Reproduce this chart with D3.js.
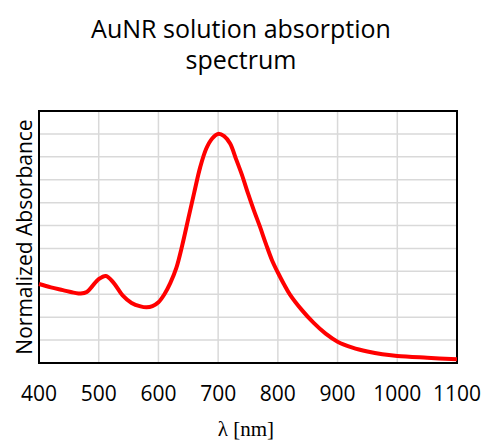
<!DOCTYPE html>
<html>
<head>
<meta charset="utf-8">
<script src="https://cdn.jsdelivr.net/npm/d3@7"></script>
<style>
  body { margin: 0; background: #fff; }
  text { font-variant-ligatures: none; }
</style>
</head>
<body>
<div id="chart"></div>
<script>
// wavelengths (nm) and normalized absorbance
var wavelengths = [400, 420, 440, 460, 470, 480, 490, 500, 512, 525, 540, 555, 570, 580, 590, 600, 610, 620,
  630, 640, 650, 660, 670, 680, 690, 700, 710, 720, 730, 740, 750, 760, 770, 780, 790, 800,
  810, 820, 840, 860, 880, 900, 925, 950, 975, 1000, 1050, 1100];
var absorbance = [0.345, 0.330, 0.318, 0.306, 0.303, 0.310, 0.338, 0.366, 0.380, 0.350, 0.295, 0.262, 0.247, 0.243, 0.248, 0.265, 0.300, 0.350,
  0.415, 0.515, 0.630, 0.745, 0.855, 0.935, 0.980, 1.000, 0.990, 0.958, 0.890, 0.820, 0.740, 0.665, 0.595, 0.520, 0.450, 0.395,
  0.345, 0.300, 0.232, 0.175, 0.128, 0.093, 0.067, 0.050, 0.038, 0.031, 0.023, 0.016];
var xTicks = [400, 500, 600, 700, 800, 900, 1000, 1100];
var yGrid = [0.1, 0.2, 0.3, 0.4, 0.5, 0.6, 0.7, 0.8, 0.9, 1.0];

var width = 485, height = 441;
var plotL = 39, plotR = 457, plotT = 111, plotB = 363;
var sans = '"Open Sans", sans-serif';

var svg = d3.select('#chart')
  .append('svg')
  .attr('width', width)
  .attr('height', height);

var x = d3.scaleLinear().domain([400, 1100]).range([plotL, plotR]);
var y = d3.scaleLinear().domain([0, 1.1]).range([plotB, plotT]);

// title
svg.append('text')
  .attr('x', 241)
  .attr('y', 38)
  .attr('text-anchor', 'middle')
  .style('font-family', sans)
  .style('font-size', '25px')
  .text('AuNR solution absorption');
svg.append('text')
  .attr('x', 241)
  .attr('y', 69)
  .attr('text-anchor', 'middle')
  .style('font-family', sans)
  .style('font-size', '25px')
  .text('spectrum');

// grid
svg.selectAll('.vgrid')
  .data(xTicks.slice(1, -1))
  .enter()
  .append('line')
  .attr('class', 'vgrid')
  .attr('x1', function(d) { return x(d); })
  .attr('x2', function(d) { return x(d); })
  .attr('y1', plotT)
  .attr('y2', plotB)
  .attr('stroke', '#d9d9d9')
  .attr('stroke-width', 1.5);

svg.selectAll('.hgrid')
  .data(yGrid)
  .enter()
  .append('line')
  .attr('class', 'hgrid')
  .attr('x1', plotL)
  .attr('x2', plotR)
  .attr('y1', function(d) { return y(d); })
  .attr('y2', function(d) { return y(d); })
  .attr('stroke', '#d9d9d9')
  .attr('stroke-width', 1.5);

// frame
svg.append('rect')
  .attr('x', plotL)
  .attr('y', plotT)
  .attr('width', plotR - plotL)
  .attr('height', plotB - plotT)
  .attr('fill', 'none')
  .attr('stroke', '#000')
  .attr('stroke-width', 2);

// x tick labels
svg.selectAll('.xlab')
  .data(xTicks)
  .enter()
  .append('text')
  .attr('class', 'xlab')
  .attr('x', function(d) { return x(d); })
  .attr('y', 401)
  .attr('text-anchor', 'middle')
  .style('font-family', sans)
  .style('font-size', '21px')
  .text(function(d) { return d; });

svg.append('text')
  .attr('x', 246)
  .attr('y', 436)
  .attr('text-anchor', 'middle')
  .style('font-family', '"Liberation Serif", serif')
  .style('font-size', '21px')
  .text('λ [nm]');

svg.append('text')
  .attr('transform', 'translate(32,' + ((plotT + plotB) / 2) + ') rotate(-90)')
  .attr('text-anchor', 'middle')
  .style('font-family', sans)
  .style('font-size', '21px')
  .text('Normalized Absorbance');

// spectrum
var data = wavelengths.map(function(w, i) { return [w, absorbance[i]]; });
var line = d3.line()
  .x(function(d) { return x(d[0]); })
  .y(function(d) { return y(d[1]); })
  .curve(d3.curveCatmullRom.alpha(0.5));

svg.append('path')
  .datum(data)
  .attr('d', line)
  .attr('fill', 'none')
  .attr('stroke', '#ff0000')
  .attr('stroke-width', 4)
  .attr('stroke-linejoin', 'round');
</script>
</body>
</html>
